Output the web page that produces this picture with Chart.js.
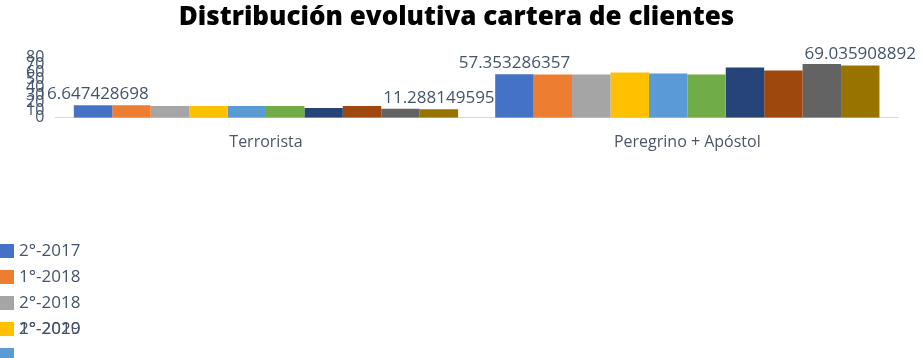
<!DOCTYPE html>
<html>
<head>
<meta charset="utf-8">
<script src="https://cdn.jsdelivr.net/npm/chart.js@4.4.1/dist/chart.umd.min.js"></script>
<style>
  html, body { margin: 0; padding: 0; background: #fff; overflow: hidden; }
  #wrap { position: relative; width: 922px; height: 358px; }
  #legend { position: absolute; left: 0; top: 238px; font-family: "Open Sans", sans-serif; font-size: 17px; color: #44546A; }
  #legend .item { position: absolute; left: 0; height: 26px; white-space: nowrap; }
  #legend .box { position: absolute; left: 0; top: 6px; width: 14px; height: 14px; }
  #legend .txt { position: absolute; left: 19px; top: 0; }
</style>
</head>
<body>
<div id="wrap">
  <canvas id="chart" width="922" height="358"></canvas>
  <div id="legend"></div>
</div>
<script>
const categories = ["Terrorista", "Peregrino + Apóstol"];
const periods = ["2°-2017", "1°-2018", "2°-2018", "1°-2019", "2°-2019", "1°-2020", "2°-2020", "1°-2021", "2°-2021", "1°-2022"];
const colors = ["#4472C4", "#ED7D31", "#A5A5A5", "#FFC000", "#5B9BD5", "#70AD47", "#264478", "#9E480E", "#636363", "#997300"];
// one row per period: [Terrorista, Peregrino + Apóstol]
const values = [
  [16.647428698, 57.353286357],
  [16.6, 57.3],
  [15.7, 57.3],
  [15.7, 59.9],
  [15.7, 58.6],
  [15.7, 57.3],
  [12.8, 66.5],
  [15.7, 62.5],
  [11.9, 70.9],
  [11.288149595, 69.035908892]
];
const labelledSeries = [0, 9];
const yTicks = [0, 10, 20, 30, 40, 50, 60, 70, 80];
// legend rows as they show up: the 4th row has two labels drawn over each other
const legendRows = [[0], [1], [2], [3, 6], [4]];

const valueLabels = {
  id: "valueLabels",
  afterDatasetsDraw(chart) {
    const ctx = chart.ctx;
    ctx.save();
    ctx.font = "17px 'Open Sans'";
    ctx.fillStyle = "#44546A";
    ctx.textAlign = "center";
    ctx.textBaseline = "bottom";
    labelledSeries.forEach(i => {
      chart.getDatasetMeta(i).data.forEach((bar, j) => {
        ctx.fillText(String(chart.data.datasets[i].data[j]), bar.x, bar.y - 3);
      });
    });
    ctx.restore();
  }
};

const chart = new Chart(document.getElementById("chart"), {
  type: "bar",
  data: {
    labels: categories,
    datasets: periods.map((p, i) => ({
      label: p,
      data: values[i],
      backgroundColor: colors[i],
      borderWidth: 0,
      categoryPercentage: 0.912,
      barPercentage: 1.0
    }))
  },
  options: {
    responsive: false,
    animation: false,
    layout: { padding: { left: 15, right: 24, top: 0, bottom: 191 } },
    plugins: {
      legend: { display: false },
      tooltip: { enabled: false },
      title: {
        display: true,
        text: "Distribución evolutiva cartera de clientes",
        color: "#000",
        font: { family: "Open Sans", size: 26, weight: "800" },
        padding: { top: 2, bottom: 24 }
      }
    },
    scales: {
      x: {
        grid: { display: false, drawTicks: false },
        border: { color: "#D9D9D9", width: 1 },
        ticks: { color: "#4D5666", font: { family: "Open Sans", size: 16 }, padding: 15 }
      },
      y: {
        min: 0,
        max: 80,
        afterBuildTicks: axis => { axis.ticks = yTicks.map(v => ({ value: v })); },
        grid: { display: false, drawTicks: false },
        border: { display: false },
        ticks: { autoSkip: false, color: "#44546A", font: { family: "Open Sans", size: 16 }, padding: 11 }
      }
    }
  },
  plugins: [valueLabels]
});

const legend = document.getElementById("legend");
legendRows.forEach((row, r) => {
  const item = document.createElement("div");
  item.className = "item";
  item.style.top = (r * 26) + "px";
  let html = '<span class="box" style="background:' + colors[row[0]] + '"></span>';
  if (r < 4) row.forEach(i => { html += '<span class="txt">' + periods[i] + '</span>'; });
  item.innerHTML = html;
  legend.appendChild(item);
});
</script>
</body>
</html>
